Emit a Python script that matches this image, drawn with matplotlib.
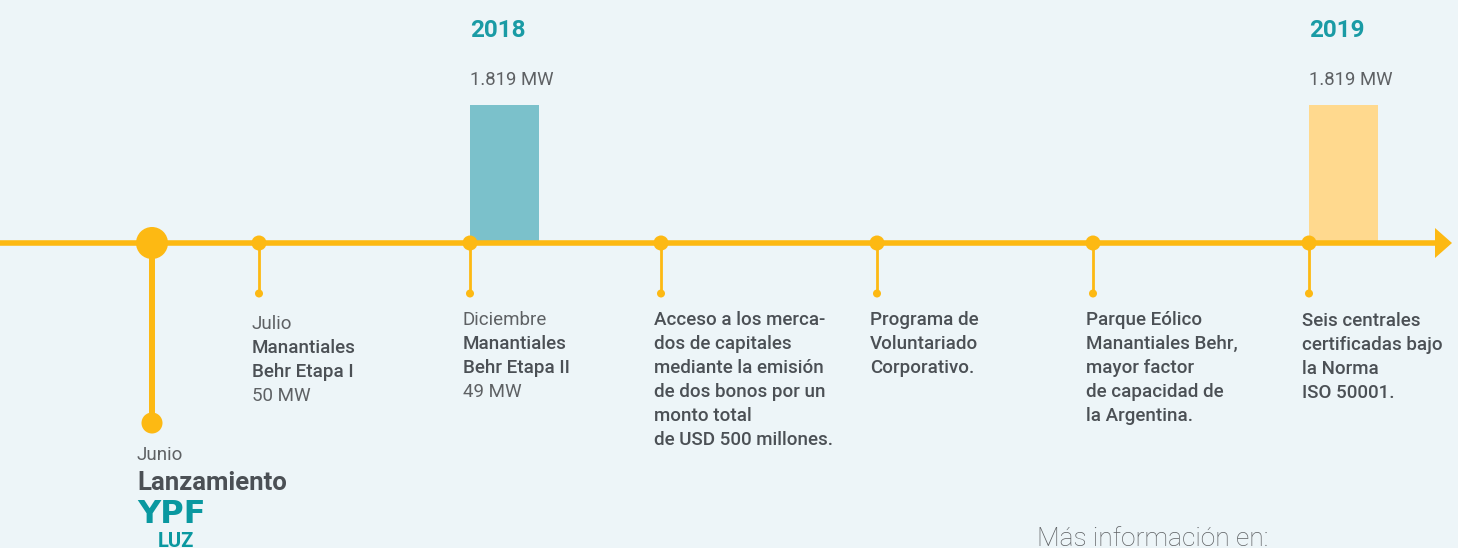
import matplotlib
matplotlib.use("Agg")
import matplotlib.pyplot as plt
from matplotlib.patches import Circle, Polygon

# ---------------- data ----------------
years = ["2018", "2019"]
year_capacity_mw = [1819, 1819]

event_dates = ["Junio", "Julio", "Diciembre", "", "", "", ""]
event_titles = [
    ["Lanzamiento"],
    ["Manantiales", "Behr Etapa I"],
    ["Manantiales", "Behr Etapa II"],
    ["Acceso a los merca-", "dos de capitales", "mediante la emisión",
     "de dos bonos por un", "monto total", "de USD 500 millones."],
    ["Programa de", "Voluntariado", "Corporativo."],
    ["Parque Eólico", "Manantiales Behr,", "mayor factor",
     "de capacidad de", "la Argentina."],
    ["Seis centrales", "certificadas bajo", "la Norma", "ISO 50001."],
]
event_capacity = ["", "50 MW", "49 MW", "", "", "", ""]
footer_text = "Más información en:"

# ---------------- layout / style ----------------
W, H = 1458, 548
BG = "#EDF5F8"
LINE = "#FDB913"
TEAL_BAR = "#7BC1CB"
YELLOW_BAR = "#FFD98E"
TEAL_TXT = "#1A9BA5"
GRAY = "#4B5055"
GRAY_L = "#5E6164"
FONT = "Roboto"
FS = 13.5

event_x = [152, 259, 470, 661, 877, 1093, 1309]
text_x = [137, 252, 463, 654, 870, 1086, 1302]
year_event_idx = [2, 6]
axis_y = 243
bar_max_px = 138
bar_w = 69

fig = plt.figure(figsize=(W / 100, H / 100), dpi=100, facecolor=BG)
ax = fig.add_axes([0, 0, 1, 1])
ax.set_xlim(0, W)
ax.set_ylim(H, 0)
ax.set_facecolor(BG)
ax.axis("off")

# bars (capacity)
scale = bar_max_px / max(year_capacity_mw)
bar_colors = [TEAL_BAR, YELLOW_BAR]
for yi, (yr, mw) in enumerate(zip(years, year_capacity_mw)):
    x0 = event_x[year_event_idx[yi]]
    ax.bar(x0, -mw * scale, bottom=axis_y, width=bar_w, align="edge",
           color=bar_colors[yi], zorder=1, linewidth=0)
    ax.text(x0, 37, yr, fontsize=17.5, fontweight="bold", color=TEAL_TXT,
            family=FONT, va="baseline", ha="left")
    lbl = f"{mw:,}".replace(",", ".") + " MW"
    ax.text(x0, 85, lbl, fontsize=13.3, color=GRAY_L, family=FONT,
            va="baseline", ha="left", fontweight="normal")

# timeline
ax.plot([0, 1440], [axis_y, axis_y], color=LINE, lw=4.0, zorder=3,
        solid_capstyle="butt")
ax.add_patch(Polygon([[1435, 228], [1452, axis_y], [1435, 258]],
                     closed=True, color=LINE, zorder=3, lw=0))

# launch event (big marker)
ax.plot([event_x[0], event_x[0]], [axis_y, 423], color=LINE, lw=4.3, zorder=3)
ax.add_patch(Circle((event_x[0], axis_y), 16, color=LINE, zorder=4, lw=0))
ax.add_patch(Circle((event_x[0], 423), 10.5, color=LINE, zorder=4, lw=0))

# other events
for x in event_x[1:]:
    ax.plot([x, x], [axis_y, 293], color=LINE, lw=2.0, zorder=3)
    ax.add_patch(Circle((x, axis_y), 7.5, color=LINE, zorder=4, lw=0))
    ax.add_patch(Circle((x, 293.5), 4, color=LINE, zorder=4, lw=0))

# texts
LS = 24
for i in range(1, len(event_x)):
    tx = text_x[i]
    y = 325 if i != 1 else 329
    if i == 6:
        y = 326
    if event_dates[i]:
        ax.text(tx, y, event_dates[i], fontsize=FS, color=GRAY_L, family=FONT,
                fontweight="normal", va="baseline", ha="left")
        y += LS
    for line in event_titles[i]:
        ax.text(tx, y, line, fontsize=FS, color=GRAY, family=FONT,
                fontweight="medium", va="baseline", ha="left")
        y += LS
    if event_capacity[i]:
        ax.text(tx, y, event_capacity[i], fontsize=FS, color=GRAY_L,
                family=FONT, fontweight="normal", va="baseline", ha="left")

# launch text
ax.text(text_x[0], 460, event_dates[0], fontsize=FS, color=GRAY_L,
        family=FONT, fontweight="normal", va="baseline", ha="left")
ax.text(text_x[0], 490, event_titles[0][0], fontsize=18.5, color=GRAY,
        family=FONT, fontweight="bold", va="baseline", ha="left")
ax.text(text_x[0], 523, "YPF", fontsize=23, color="#0A98A0",
        family="DejaVu Sans", fontweight="heavy", va="baseline", ha="left")
ax.text(176, 547, "LUZ", fontsize=14.5, color="#0A98A0", family=FONT,
        fontweight="bold", va="baseline", ha="center")

# footer
ax.text(1037, 546, footer_text, fontsize=19, color=GRAY_L, family=FONT,
        fontweight="light", va="baseline", ha="left")

fig.savefig("out.png", dpi=100, facecolor=BG)
